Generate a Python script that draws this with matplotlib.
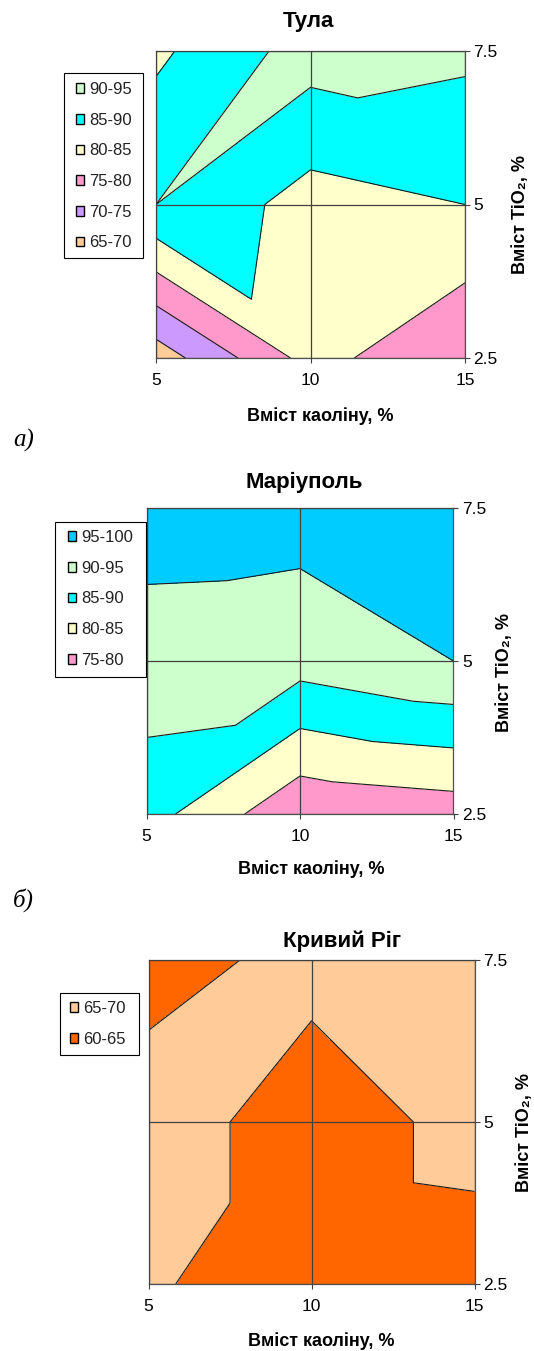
import matplotlib
matplotlib.use('Agg')
import matplotlib.pyplot as plt
import matplotlib.tri as mtri
from matplotlib.patches import Patch, Rectangle

# data grid: kaolin along x, TiO2 along y
kaolin = [5, 10, 15]
tio2 = [2.5, 5, 7.5]

# rows -> TiO2 = 2.5, 5, 7.5 ; columns -> kaolin = 5, 10, 15
tula = [[67.2, 81.9, 75.2],
        [90.0, 82.9, 85.0],
        [84.0, 92.2, 91.0]]
mariupol = [[87.1, 76.0, 77.4],
            [92.9, 92.1, 95.0],
            [97.1, 96.9, 98.0]]
kryvyi_rih = [[65.6, 62.0, 62.6],
              [68.0, 62.0, 66.8],
              [62.7, 66.8, 68.0]]

tula_levels = [65, 70, 75, 80, 85, 90, 95]
mariupol_levels = [75, 80, 85, 90, 95, 100]
kryvyi_rih_levels = [60, 65, 70]

titles = ['Тула', 'Маріуполь', 'Кривий Ріг']
panel_tags = ['а)', 'б)']
xlabel = 'Вміст каоліну, %'
ylabel = 'Вміст TiO₂, %'

# band colours (Excel palette), lowest band first
tula_colors = ['#FFCC99', '#CC99FF', '#FF99CC', '#FFFFCC', '#00FFFF', '#CCFFCC']
mariupol_colors = ['#FF99CC', '#FFFFCC', '#00FFFF', '#CCFFCC', '#00CCFF']
kryvyi_rih_colors = ['#FF6600', '#FFCC99']

plt.rcParams['font.family'] = ['Liberation Sans', 'DejaVu Sans']

W, H = 534, 1351
fig = plt.figure(figsize=(W / 100, H / 100), dpi=100)


def fx(px):
    return px / W


def fy(py):
    return 1 - py / H


def excel_triangulation(z):
    xs, ys, zs = [], [], []
    for j, y in enumerate(tio2):
        for i, x in enumerate(kaolin):
            xs.append(x)
            ys.append(y)
            zs.append(z[j][i])
    nx = len(kaolin)
    tris = []
    for j in range(len(tio2) - 1):
        for i in range(nx - 1):
            bl = j * nx + i
            br = bl + 1
            tl = bl + nx
            tr = tl + 1
            # Excel splits each cell along the diagonal with the larger sum
            if zs[tl] + zs[br] >= zs[bl] + zs[tr]:
                tris += [[bl, br, tl], [tl, br, tr]]
            else:
                tris += [[bl, br, tr], [bl, tr, tl]]
    return mtri.Triangulation(xs, ys, tris), zs


panels = [
    # axes box (l, t, r, b px), title / label / tag centres, legend box + anchor
    dict(z=tula, levels=tula_levels, colors=tula_colors,
         box=(156, 51, 465, 358), title=(308, 22),
         lbox=(64, 73, 143, 258), lanchor=(76, 82),
         xlab=(320, 416), ylab=(520, 215), tag=(13, 440)),
    dict(z=mariupol, levels=mariupol_levels, colors=mariupol_colors,
         box=(146.5, 508, 453.5, 814), title=(304, 482),
         lbox=(55, 522, 146, 677), lanchor=(68, 530),
         xlab=(311, 869), ylab=(505, 672), tag=(13, 900)),
    dict(z=kryvyi_rih, levels=kryvyi_rih_levels, colors=kryvyi_rih_colors,
         box=(148.6, 960, 474.5, 1284), title=(342, 941),
         lbox=(60, 993, 139, 1055), lanchor=(70, 1001),
         xlab=(321, 1341), ylab=(524, 1132), tag=None),
]

for k, p in enumerate(panels):
    l, t, r, b = p['box']
    ax = fig.add_axes([fx(l), fy(b), fx(r) - fx(l), fy(t) - fy(b)])
    tri, zs = excel_triangulation(p['z'])
    ax.tricontourf(tri, zs, levels=p['levels'], colors=p['colors'])
    ax.tricontour(tri, zs, levels=p['levels'], colors='#1a1a1a', linewidths=0.8)

    ax.set_xlim(kaolin[0], kaolin[-1])
    ax.set_ylim(tio2[0], tio2[-1])
    ax.set_xticks(kaolin)
    ax.set_xticklabels([f'{v:g}' for v in kaolin])
    ax.set_yticks(tio2)
    ax.set_yticklabels([f'{v:g}' for v in tio2])
    ax.yaxis.tick_right()
    ax.set_axisbelow(False)
    ax.grid(True, color='#404040', lw=0.9)
    for s in ax.spines.values():
        s.set_color('#505050')
        s.set_linewidth(0.9)
    ax.tick_params(axis='x', direction='out', length=3.6, width=0.8,
                   color='#404040', labelsize=12.5, pad=7.5)
    ax.tick_params(axis='y', direction='out', length=3.6, width=0.8,
                   color='#404040', labelsize=12.5, pad=2.5)

    fig.text(fx(p['title'][0]), fy(p['title'][1]), titles[k], ha='center',
             va='center', fontsize=16, fontweight='bold')
    fig.text(fx(p['xlab'][0]), fy(p['xlab'][1]), xlabel, ha='center',
             va='center', fontsize=13, fontweight='bold')
    fig.text(fx(p['ylab'][0]), fy(p['ylab'][1]), ylabel, ha='center',
             va='center', fontsize=13, fontweight='bold', rotation=90)
    if p['tag']:
        fig.text(fx(p['tag'][0]), fy(p['tag'][1]), panel_tags[k], ha='left',
                 va='center', fontsize=18, style='italic',
                 family=['Liberation Serif', 'DejaVu Serif'])

    # legend, highest band on top
    lv = p['levels']
    handles = [Patch(facecolor=c, edgecolor='black', lw=1.0)
               for c in p['colors']][::-1]
    labels = [f'{lv[i]}-{lv[i + 1]}' for i in range(len(lv) - 1)][::-1]
    x0, y0, x1, y1 = p['lbox']
    fig.add_artist(Rectangle((fx(x0), fy(y1)), fx(x1) - fx(x0), fy(y0) - fy(y1),
                             transform=fig.transFigure, facecolor='white',
                             edgecolor='black', lw=0.8, zorder=4))
    fig.legend(handles, labels, loc='upper left',
               bbox_to_anchor=(fx(p['lanchor'][0]), fy(p['lanchor'][1])),
               frameon=False, borderpad=0, borderaxespad=0, fontsize=12,
               labelcolor='#222222', handlelength=0.5, handleheight=0.5,
               handletextpad=0.28, labelspacing=0.94)

fig.savefig('out.png', dpi=100)
